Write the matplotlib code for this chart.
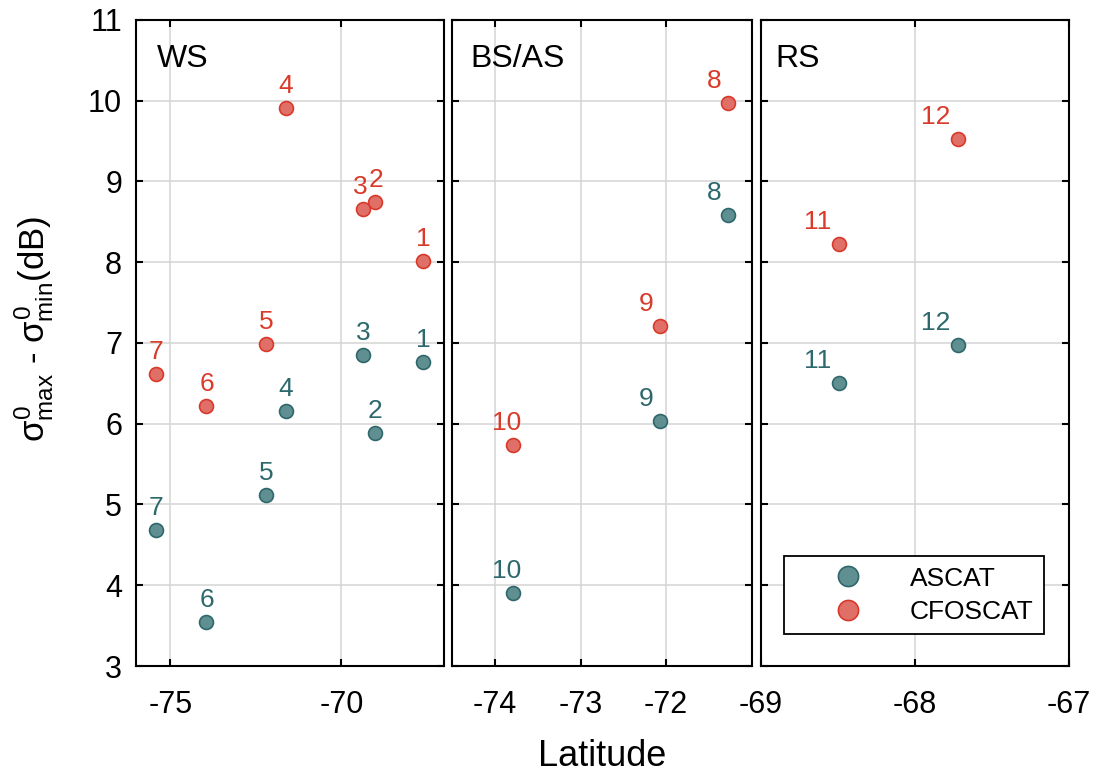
import matplotlib
matplotlib.use('Agg')
import matplotlib.pyplot as plt

plt.rcParams['font.family'] = ['Liberation Sans', 'DejaVu Sans']
plt.rcParams['mathtext.fontset'] = 'custom'
plt.rcParams['mathtext.rm'] = 'Liberation Sans'
plt.rcParams['mathtext.it'] = 'Liberation Sans'
plt.rcParams['mathtext.bf'] = 'Liberation Sans:bold'
plt.rcParams['axes.unicode_minus'] = False

# 各海域のデータ
ws_id = [1, 2, 3, 4, 5, 6, 7]
ws_lat = [-67.61, -69.01, -69.36, -71.62, -72.19, -73.94, -75.43]
ws_ascat = [6.77, 5.89, 6.85, 6.16, 5.12, 3.55, 4.68]
ws_cfoscat = [8.02, 8.75, 8.66, 9.91, 6.99, 6.22, 6.62]

bs_id = [8, 9, 10]
bs_lat = [-71.28, -72.07, -73.79]
bs_ascat = [8.59, 6.03, 3.91]
bs_cfoscat = [9.97, 7.21, 5.74]

rs_id = [11, 12]
rs_lat = [-68.49, -67.72]
rs_ascat = [6.50, 6.98]
rs_cfoscat = [8.23, 9.53]

panels = [
    ('WS', ws_id, ws_lat, ws_ascat, ws_cfoscat, (-76, -67), [-75, -70]),
    ('BS/AS', bs_id, bs_lat, bs_ascat, bs_cfoscat, (-74.5, -71), [-74, -73, -72]),
    ('RS', rs_id, rs_lat, rs_ascat, rs_cfoscat, (-69, -67), [-69, -68, -67]),
]

# ラベルの横ずれ（ピクセル）
label_dx = {8: -14, 9: -14, 10: -6, 11: -22, 12: -22}
# CFOSCATの3と2は重なるので少しずらす
cfo_dx = {3: -3, 2: 1}

teal_face = '#5f8f91'
teal_edge = '#2f676b'
teal_text = '#2c686c'
red_face = '#e07067'
red_edge = '#d8392b'
red_text = '#d93a2a'

W, H = 1102, 777
fig = plt.figure(figsize=(W / 100, H / 100), dpi=100)

# 各パネルの位置（ピクセル）
boxes = [(136, 444), (452.3, 751.7), (761, 1068.5)]
top, bottom = 20, 666
name_x = [0.068, 0.061, 0.046]

px2pt = 0.72
axes = []
for i, (name, ids, lat, asc, cfo, xlim, xt) in enumerate(panels):
    l, r = boxes[i]
    ax = fig.add_axes([l / W, 1 - bottom / H, (r - l) / W, (bottom - top) / H])
    axes.append(ax)
    ax.set_xlim(xlim)
    ax.set_ylim(3, 11)
    ax.set_xticks(xt)
    ax.set_yticks(range(3, 12))
    ax.grid(True, color='#d4d4d4', linewidth=1.1)
    ax.set_axisbelow(True)
    ax.tick_params(direction='in', length=5, width=1.5, top=True, right=True,
                   labelsize=22)
    ax.tick_params(axis='x', pad=17)
    ax.tick_params(axis='y', pad=10)
    if i > 0:
        ax.tick_params(labelleft=False)
    for sp in ax.spines.values():
        sp.set_linewidth(1.5)

    ax.plot(lat, asc, 'o', ms=10, mfc=teal_face, mec=teal_edge, mew=1.2,
            label='ASCAT', zorder=3)
    ax.plot(lat, cfo, 'o', ms=10, mfc=red_face, mec=red_edge, mew=1.2,
            label='CFOSCAT', zorder=3)

    for k, n in enumerate(ids):
        dx = label_dx.get(n, 0) * px2pt
        dx2 = (label_dx.get(n, 0) + cfo_dx.get(n, 0)) * px2pt
        ax.annotate(str(n), (lat[k], asc[k]), xytext=(dx, 22 * px2pt),
                    textcoords='offset points', ha='center', va='center',
                    fontsize=19, color=teal_text)
        ax.annotate(str(n), (lat[k], cfo[k]), xytext=(dx2, 22 * px2pt),
                    textcoords='offset points', ha='center', va='center',
                    fontsize=19, color=red_text)

    ax.text(name_x[i], 0.939, name, transform=ax.transAxes, fontsize=23,
            ha='left', va='center')

leg = axes[2].legend(loc='lower right', bbox_to_anchor=(0.92, 0.049),
                     borderaxespad=0, fontsize=19, frameon=True, fancybox=False,
                     edgecolor='black', markerscale=1.45, handlelength=4.05,
                     handletextpad=0.3, borderpad=0.4, labelspacing=0.35)
leg.get_frame().set_linewidth(1.3)
leg.get_frame().set_alpha(1)

fig.text(0.031, 0.577, r'$\sigma^0_{max}$ - $\sigma^0_{min}$(dB)', rotation=90,
         ha='center', va='center', fontsize=25)
fig.text(0.546, 0.0145, 'Latitude', ha='center', va='baseline', fontsize=26)

fig.savefig('out.png', dpi=100)
